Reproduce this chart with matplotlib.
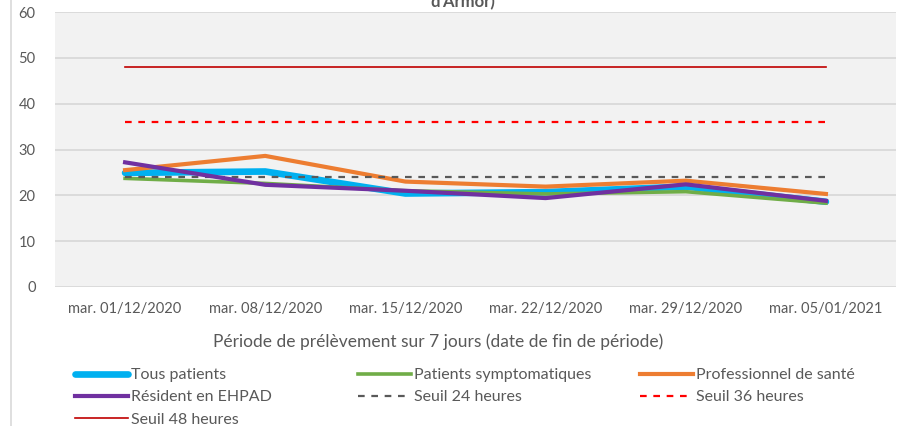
import numpy as np
import matplotlib
matplotlib.use('Agg')
from matplotlib import pyplot as plt
from matplotlib.lines import Line2D

# dates (end of the 7 day period)
dates = ['mar. 01/12/2020', 'mar. 08/12/2020', 'mar. 15/12/2020',
         'mar. 22/12/2020', 'mar. 29/12/2020', 'mar. 05/01/2021']

# series
tous_patients = [24.9, 25.2, 20.4, 20.7, 21.9, 18.6]
patients_sympt = [23.7, 22.6, 21.0, 20.3, 20.8, 18.3]
pro_sante = [25.5, 28.6, 23.0, 21.9, 23.2, 20.3]
resident_ehpad = [27.2, 22.3, 21.0, 19.4, 22.4, 18.8]
seuil_24 = [24] * 6
seuil_36 = [36] * 6
seuil_48 = [48] * 6

y_ticks = [0, 10, 20, 30, 40, 50, 60]

plt.rcParams['font.family'] = ['Lato', 'DejaVu Sans']
txt_color = '#595959'

fig = plt.figure(figsize=(9.02, 4.26), dpi=100)
ax = fig.add_axes([55 / 902, 1 - 287 / 426, 841 / 902, 275 / 426])
ax.set_facecolor('#F2F2F2')

x = np.arange(len(dates))
ax.plot(x, seuil_48, color='#C00000', lw=1.2, label='Seuil 48 heures')
ax.plot(x, seuil_36, color='#FF0000', lw=1.6, ls=(0, (3, 3)), label='Seuil 36 heures')
ax.plot(x, tous_patients, color='#00B0F0', lw=4.8, solid_capstyle='round', label='Tous patients')
ax.plot(x, patients_sympt, color='#70AD47', lw=2.6, label='Patients symptomatiques')
ax.plot(x, pro_sante, color='#ED7D31', lw=3.0, label='Professionnel de santé')
ax.plot(x, seuil_24, color='#595959', lw=1.6, ls=(0, (3, 3)), label='Seuil 24 heures')
ax.plot(x, resident_ehpad, color='#7030A0', lw=3.0, label='Résident en EHPAD')

ax.set_xlim(-0.5, len(dates) - 0.5)
ax.set_ylim(0, 60)
ax.set_yticks(y_ticks)
ax.set_xticks(x)
ax.set_xticklabels(dates)
ax.grid(axis='y', color='#D9D9D9', lw=1.3)
ax.set_axisbelow(True)
for s in ax.spines.values():
    s.set_visible(False)
ax.tick_params(axis='both', length=0, labelsize=10.5, colors=txt_color)
ax.tick_params(axis='y', pad=14)
ax.tick_params(axis='x', pad=11)

# axis title
fig.text(438 / 902, 1 - 342 / 426, 'Période de prélèvement sur 7 jours (date de fin de période)',
         ha='center', va='center', fontsize=12.5, color=txt_color)

# title, cut off at the top of the picture
fig.text(463 / 902, 1 - 7 / 426, "d'Armor)", ha='center', va='baseline',
         fontsize=12, fontweight='bold', color=txt_color)

# chart frame left border
fig.add_artist(Line2D([11 / 902, 11 / 902], [0, 1], transform=fig.transFigure,
                      color='#D9D9D9', lw=1.2))

# legend in three columns
handles, labels = ax.get_legend_handles_labels()
by_label = dict(zip(labels, handles))
columns = [['Tous patients', 'Résident en EHPAD', 'Seuil 48 heures'],
           ['Patients symptomatiques', 'Seuil 24 heures'],
           ['Professionnel de santé', 'Seuil 36 heures']]
col_x = [75, 358, 640]
for cx, col in zip(col_x, columns):
    leg = fig.legend([by_label[l] for l in col], col, loc='upper left',
                     bbox_to_anchor=(cx / 902, 1 - 368 / 426), frameon=False,
                     fontsize=11.5, handlelength=3.3, handletextpad=0.2,
                     labelspacing=0.5, borderpad=0, borderaxespad=0)
    for t in leg.get_texts():
        t.set_color(txt_color)

fig.savefig('out.png', dpi=100, facecolor='white')
